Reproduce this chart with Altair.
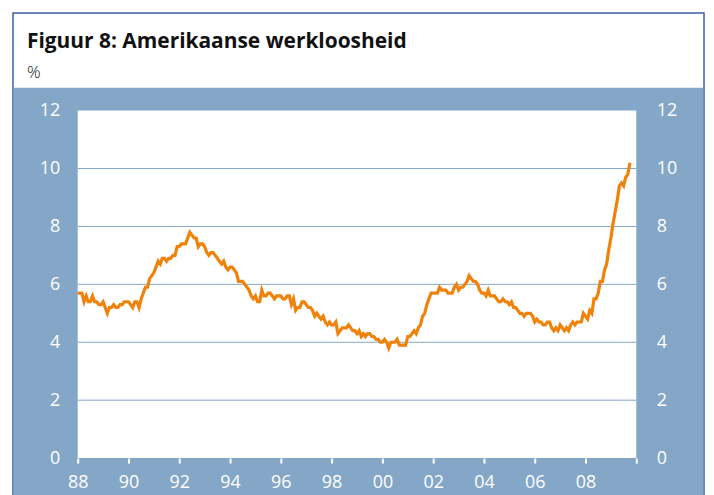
import altair as alt
import pandas as pd

TITLE = "Figuur 8: Amerikaanse werkloosheid"
UNIT = "%"

# US unemployment rate, monthly, %
R1988 = [5.7, 5.7, 5.7, 5.4, 5.6, 5.4, 5.4, 5.6, 5.4, 5.4, 5.3, 5.3]
R1989 = [5.4, 5.2, 5.0, 5.2, 5.2, 5.3, 5.2, 5.2, 5.3, 5.3, 5.4, 5.4]
R1990 = [5.4, 5.3, 5.2, 5.4, 5.4, 5.2, 5.5, 5.7, 5.9, 5.9, 6.2, 6.3]
R1991 = [6.4, 6.6, 6.8, 6.7, 6.9, 6.9, 6.8, 6.9, 6.9, 7.0, 7.0, 7.3]
R1992 = [7.3, 7.4, 7.4, 7.4, 7.6, 7.8, 7.7, 7.6, 7.6, 7.3, 7.4, 7.4]
R1993 = [7.3, 7.1, 7.0, 7.1, 7.1, 7.0, 6.9, 6.8, 6.7, 6.8, 6.6, 6.5]
R1994 = [6.6, 6.6, 6.5, 6.4, 6.1, 6.1, 6.1, 6.0, 5.9, 5.8, 5.6, 5.5]
R1995 = [5.6, 5.4, 5.4, 5.8, 5.6, 5.6, 5.7, 5.7, 5.6, 5.5, 5.6, 5.6]
R1996 = [5.6, 5.5, 5.5, 5.6, 5.6, 5.3, 5.5, 5.1, 5.2, 5.2, 5.4, 5.4]
R1997 = [5.3, 5.2, 5.2, 5.1, 4.9, 5.0, 4.9, 4.8, 4.9, 4.7, 4.6, 4.7]
R1998 = [4.6, 4.6, 4.7, 4.3, 4.4, 4.5, 4.5, 4.5, 4.6, 4.5, 4.4, 4.4]
R1999 = [4.3, 4.4, 4.2, 4.3, 4.2, 4.3, 4.3, 4.2, 4.2, 4.1, 4.1, 4.0]
R2000 = [4.0, 4.1, 4.0, 3.8, 4.0, 4.0, 4.0, 4.1, 3.9, 3.9, 3.9, 3.9]
R2001 = [4.2, 4.2, 4.3, 4.4, 4.3, 4.5, 4.6, 4.9, 5.0, 5.3, 5.5, 5.7]
R2002 = [5.7, 5.7, 5.7, 5.9, 5.8, 5.8, 5.8, 5.7, 5.7, 5.7, 5.9, 6.0]
R2003 = [5.8, 5.9, 5.9, 6.0, 6.1, 6.3, 6.2, 6.1, 6.1, 6.0, 5.8, 5.7]
R2004 = [5.7, 5.6, 5.8, 5.6, 5.6, 5.6, 5.5, 5.4, 5.4, 5.5, 5.4, 5.4]
R2005 = [5.3, 5.4, 5.2, 5.2, 5.1, 5.0, 5.0, 4.9, 5.0, 5.0, 5.0, 4.9]
R2006 = [4.7, 4.8, 4.7, 4.7, 4.6, 4.6, 4.7, 4.7, 4.5, 4.4, 4.5, 4.4]
R2007 = [4.6, 4.5, 4.4, 4.5, 4.4, 4.6, 4.7, 4.6, 4.7, 4.7, 4.7, 5.0]
R2008 = [4.9, 4.8, 5.1, 5.0, 5.5, 5.5, 5.7, 6.1, 6.1, 6.5, 6.7, 7.2]
R2009 = [7.6, 8.1, 8.5, 8.9, 9.4, 9.5, 9.4, 9.7, 9.8, 10.2]

START_YEAR = 1988
X_TICKS = [1988, 1990, 1992, 1994, 1996, 1998, 2000, 2002, 2004, 2006, 2008, 2010]
Y_TICKS = [0, 2, 4, 6, 8, 10, 12]
GRID = [2, 4, 6, 8, 10]

rates = (R1988 + R1989 + R1990 + R1991 + R1992 + R1993 + R1994 + R1995 + R1996
         + R1997 + R1998 + R1999 + R2000 + R2001 + R2002 + R2003 + R2004 + R2005
         + R2006 + R2007 + R2008 + R2009)
df = pd.DataFrame({"t": [START_YEAR + i / 12 for i in range(len(rates))], "rate": rates})
grid_df = pd.DataFrame({"g": GRID})

BLUE = "#84A6C7"
BORDER = "#3A62A7"
ORANGE = "#F0820A"
FONT = "Open Sans"
W, H = 561, 349

xscale = alt.Scale(domain=[1988, 2010], nice=False, zero=False)
yscale = alt.Scale(domain=[0, 12], nice=False)

one = alt.Data(values=[{"k": 1}])

frame = alt.Chart(one).mark_rect(fill="white", stroke=BORDER, strokeWidth=1.5).encode(
    x=alt.value(-65), x2=alt.value(629), y=alt.value(-98), y2=alt.value(400))
panel = alt.Chart(one).mark_rect(fill=BLUE).encode(
    x=alt.value(-64), x2=alt.value(628), y=alt.value(-23), y2=alt.value(400))
plotbg = alt.Chart(one).mark_rect(fill="white").encode(
    x=alt.value(0), x2=alt.value(W), y=alt.value(0), y2=alt.value(H))

title = alt.Chart(alt.Data(values=[{"s": TITLE}])).mark_text(
    align="left", baseline="alphabetic", font=FONT, fontSize=21, fontWeight="bold", color="#111111"
).encode(x=alt.value(-51), y=alt.value(-63), text="s:N")
unit = alt.Chart(alt.Data(values=[{"s": UNIT}])).mark_text(
    align="left", baseline="alphabetic", font=FONT, fontSize=17, fontWeight=300, color="#111111"
).encode(x=alt.value(-51), y=alt.value(-33), text="s:N")

grid = alt.Chart(grid_df).mark_rule(color=BLUE, strokeWidth=1).encode(
    y=alt.Y("g:Q", scale=yscale, title=None,
            axis=alt.Axis(orient="right", values=Y_TICKS, ticks=False, domain=False, grid=False,
                          labelColor="white", labelFont=FONT, labelFontSize=18,
                          labelPadding=20, zindex=1))
)

line = alt.Chart(df).mark_line(color=ORANGE, strokeWidth=3.2).encode(
    x=alt.X("t:Q", scale=xscale, title=None,
            axis=alt.Axis(values=X_TICKS, labelExpr="datum.value >= 2010 ? '' : substring(toString(datum.value), 2, 4)",
                          tickColor="white", tickWidth=2, tickSize=5, domain=False, grid=False,
                          labelColor="white", labelFont=FONT, labelFontSize=18, labelPadding=11,
                          labelFlush=False, labelOverlap=False, zindex=1)),
    y=alt.Y("rate:Q", scale=yscale, title=None,
            axis=alt.Axis(orient="left", values=Y_TICKS, ticks=False, domain=False, grid=False,
                          labelColor="white", labelFont=FONT, labelFontSize=18,
                          labelPadding=18, zindex=1)),
)

chart = alt.layer(frame, panel, plotbg, title, unit, grid, line).resolve_axis(y="independent").properties(
    width=W, height=H,
    autosize=alt.AutoSizeParams(type="none"),
    padding={"left": 70, "top": 102, "right": 70, "bottom": 37},
    background="white",
).configure_view(stroke=None)

chart.save("out.html", embed_options={"renderer": "svg", "actions": False})
